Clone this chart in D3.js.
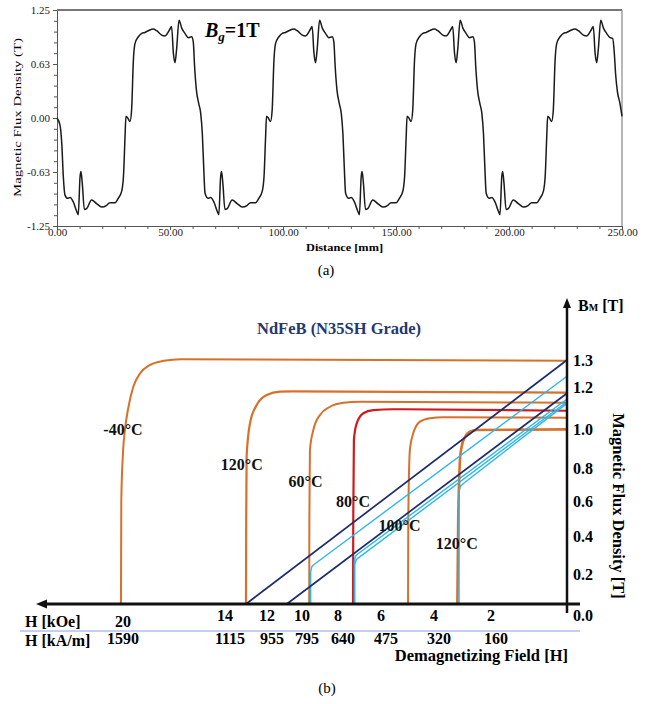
<!DOCTYPE html>
<html>
<head>
<meta charset="utf-8">
<script src="https://cdn.jsdelivr.net/npm/d3@7"></script>
<style>
  body { margin: 0; background: #fff; }
  svg { display: block; font-family: "Liberation Serif", "Times New Roman", serif; }
</style>
</head>
<body>
<svg id="fig" width="651" height="704"></svg>
<script>
// ---------- (a) air-gap flux density along the distance, [mm, T]
const cycle1 = [[0,0],[1.3,-0.08],[2.1,-0.29],[2.8,-0.68],[3.5,-0.89],[4.7,-0.93],[5.8,-0.92],[7.2,-0.97],[8.7,-1.08],[9.4,-1.12],
  [10.2,-0.68],[10.6,-0.62],[11.2,-0.76],[12.1,-1.06],[13.1,-1.05],[15.3,-0.95],[17.5,-0.99],[19.8,-1.03],[22.0,-1.01],[23.4,-0.98],
  [25.7,-0.98],[27.1,-0.93],[28.6,-0.85],[29.4,-0.68],[30.1,-0.22],[30.5,0.02],[31.3,0.00],[32.3,-0.04],[33.0,0.09],[33.8,0.67],
  [34.5,0.86],[36.0,0.94],[37.5,0.98],[38.9,0.99],[40.4,1.01],[42.6,1.03],[44.1,1.01],[46.3,0.96],[47.8,0.95],[50.0,1.03],
  [50.7,1.06],[51.5,0.75],[52.2,0.64],[52.9,0.79],[54.0,1.13],[55.2,1.04],[56.6,0.98],[58.1,0.93],[59.6,0.94],[60.3,0.88],
  [60.9,0.59],[61.7,0.32],[62.7,0.17],[63.6,0.05]]
const cycle2 = [[64.3,-0.18],[64.9,-0.56],[65.5,-0.87],[66.9,-0.93],[68.0,-0.92],[69.4,-0.97],[70.9,-1.08],[71.6,-1.12],[72.4,-0.68],
  [72.8,-0.62],[73.4,-0.76],[74.3,-1.06],[75.3,-1.05],[77.5,-0.95],[79.7,-0.99],[82.0,-1.03],[84.2,-1.01],[85.6,-0.98],[87.9,-0.98],
  [89.3,-0.93],[90.8,-0.85],[91.6,-0.68],[92.3,-0.22],[92.7,0.02],[93.5,0.00],[94.5,-0.04],[95.2,0.09],[96.0,0.67],[96.7,0.86],
  [98.2,0.94],[99.7,0.98],[101.1,0.99],[102.6,1.01],[104.8,1.03],[106.3,1.01],[108.5,0.96],[110.0,0.95],[112.2,1.03],[112.9,1.06],
  [113.7,0.75],[114.4,0.64],[115.1,0.79],[116.2,1.13],[117.4,1.04],[118.8,0.98],[120.3,0.93],[121.8,0.94],[122.5,0.88],[123.1,0.59],
  [123.9,0.32],[124.9,0.17],[125.8,0.05]]
const cycle3 = [[126.5,-0.18],[127.1,-0.56],[127.7,-0.87],[129.1,-0.93],[130.2,-0.92],[131.6,-0.97],[133.1,-1.08],[133.8,-1.12],
  [134.6,-0.68],[135.0,-0.62],[135.6,-0.76],[136.5,-1.06],[137.5,-1.05],[139.7,-0.95],[141.9,-0.99],[144.2,-1.03],[146.4,-1.01],
  [147.8,-0.98],[150.1,-0.98],[151.5,-0.93],[153.0,-0.85],[153.8,-0.68],[154.5,-0.22],[154.9,0.02],[155.7,0.00],[156.7,-0.04],
  [157.4,0.09],[158.2,0.67],[158.9,0.86],[160.4,0.94],[161.9,0.98],[163.3,0.99],[164.8,1.01],[167.0,1.03],[168.5,1.01],[170.7,0.96],
  [172.2,0.95],[174.4,1.03],[175.1,1.06],[175.9,0.75],[176.6,0.64],[177.3,0.79],[178.4,1.13],[179.6,1.04],[181.0,0.98],[182.5,0.93],
  [184.0,0.94],[184.7,0.88],[185.3,0.59],[186.1,0.32],[187.1,0.17],[188.0,0.05]]
const cycle4 = [[188.7,-0.18],[189.3,-0.56],[189.9,-0.87],[191.3,-0.93],[192.4,-0.92],[193.8,-0.97],[195.3,-1.08],[196.0,-1.12],
  [196.8,-0.68],[197.2,-0.62],[197.8,-0.76],[198.7,-1.06],[199.7,-1.05],[201.9,-0.95],[204.1,-0.99],[206.4,-1.03],[208.6,-1.01],
  [210.0,-0.98],[212.3,-0.98],[213.7,-0.93],[215.2,-0.85],[216.0,-0.68],[216.7,-0.22],[217.1,0.02],[217.9,0.00],[218.9,-0.04],
  [219.6,0.09],[220.4,0.67],[221.1,0.86],[222.6,0.94],[224.1,0.98],[225.5,0.99],[227.0,1.01],[229.2,1.03],[230.7,1.01],[232.9,0.96],
  [234.4,0.95],[236.6,1.03],[237.3,1.06],[238.1,0.75],[238.8,0.64],[239.5,0.79],[240.6,1.13],[241.8,1.04],[243.2,0.98],[244.7,0.93],
  [245.9,0.92],[246.6,0.75],[247.2,0.5],[248.0,0.3],[249.0,0.18],[250.0,0.02]]

const distTicks = [0, 50, 100, 150, 200, 250]
const fluxTicks = [-1.25, -0.625, 0, 0.625, 1.25]
const fluxTickLabels = ["-1.25", "-0.63", "0.00", "0.63", "1.25"]

// ---------- (b) NdFeB demagnetization curves, [H kOe, B T]
const hTicksKOe = [20, 14, 12, 10, 8, 6, 4, 2]
const hTicksKAm = [1590, 1115, 955, 795, 640, 475, 320, 160]
const bTicks = [0.2, 0.4, 0.6, 0.8, 1.0, 1.2, 1.3]

const curveM40 = [[20.12,0],[20.1,0.6],[20.0,0.88],[19.88,1.0],[19.69,1.1],[19.4,1.2],[19.0,1.25],[18.4,1.282],[17.6,1.297],[16.6,1.303],[0,1.297]]
const curve120a = [[13.0,0],[12.99,0.5],[12.97,0.86],[12.81,1.027],[12.49,1.114],[12.01,1.162],[11.26,1.178],[10.51,1.179],[0,1.173]]
const curve60 = [[9.6,0],[9.59,0.5],[9.56,0.89],[9.37,0.995],[9.0,1.067],[8.44,1.106],[7.75,1.125],[6.98,1.13],[0,1.125]]
const curve80 = [[7.3,0],[7.29,0.5],[7.26,0.944],[7.13,1.027],[6.82,1.075],[6.36,1.09],[5.54,1.094],[0,1.087]]
const curve100 = [[4.98,0],[4.97,0.5],[4.91,0.892],[4.78,0.979],[4.53,1.035],[4.15,1.051],[3.67,1.056],[0,1.054]]
const curve120b = [[3.18,0],[3.15,0.5],[3.12,0.707],[3.09,0.84],[3.03,0.909],[2.91,0.96],[2.74,0.986],[2.5,0.995],[0,0.998]]

const loadLines = [[[13.0,0],[0,1.3]], [[10.87,0],[0,1.17]]]
const recoil60 = [[9.52,0],[9.52,0.21],[9.45,0.24],[9.33,0.25],[0,1.24]]
const recoil80a = [[7.24,0],[7.24,0.27],[7.18,0.295],[7.08,0.305],[0,1.143]]
const recoil80b = [[7.22,0],[7.22,0.25],[7.15,0.275],[7.05,0.285],[0,1.13]]
const recoil120 = [[3.12,0],[3.12,0.66],[3.07,0.69],[2.98,0.705],[0,1.122]]

const tempNames = ["-40", "120", "60", "80", "100", "120"]
const tempLabelAt = [[20, 1.0], [13.2, 0.82], [9.8, 0.72], [7.3, 0.6], [5.3, 0.46], [3.2, 0.36]]

const ORANGE = '#d7702a', RED = '#cf1b1b', NAVY = '#1d2c6c', CYAN = '#2fb7ea'

const svg = d3.select('#fig')
svg.append('rect').attr('width', 651).attr('height', 704).attr('fill', '#fff')

// ================= panel (a)
const xA = d3.scaleLinear().domain([0, 250]).range([57, 622])
const yA = d3.scaleLinear().domain([-1.25, 1.25]).range([226, 10])
const gA = svg.append('g')

gA.append('g').attr('transform', `translate(0,${yA(-1.25)})`)
  .call(d3.axisBottom(xA).tickValues(d3.range(0, 251, 10)).tickSize(3).tickFormat(''))
gA.append('g').attr('transform', `translate(0,${yA(-1.25)})`)
  .call(d3.axisBottom(xA).tickValues(distTicks).tickSize(4).tickPadding(-1.5).tickFormat(d3.format('.2f')))
gA.append('g').attr('transform', `translate(${xA(0)},0)`)
  .call(d3.axisLeft(yA).tickValues(d3.range(-1.25, 1.26, 0.125)).tickSize(3).tickFormat(''))
gA.append('g').attr('transform', `translate(${xA(0)},0)`)
  .call(d3.axisLeft(yA).tickValues(fluxTicks).tickSize(4).tickFormat((d, i) => fluxTickLabels[i]))
gA.selectAll('.domain, .tick line').attr('stroke', '#555')
gA.selectAll('.tick text').attr('fill', '#222').style('font-size', '11px')
  .style('font-family', '"Liberation Serif", serif')

// frame top and right
gA.append('line').attr('x1', xA(0)).attr('x2', xA(250)).attr('y1', yA(1.25)).attr('y2', yA(1.25))
  .attr('stroke', '#777').attr('stroke-width', 2)
gA.append('line').attr('x1', xA(250)).attr('x2', xA(250)).attr('y1', yA(1.25)).attr('y2', yA(-1.25))
  .attr('stroke', '#888').attr('stroke-width', 1.2)

const wave = cycle1.concat(cycle2, cycle3, cycle4)
gA.append('path').datum(wave)
  .attr('fill', 'none').attr('stroke', '#1a1a1a').attr('stroke-width', 1.5)
  .attr('d', d3.line().x(d => xA(d[0])).y(d => yA(d[1])).curve(d3.curveMonotoneX))

gA.append('text').attr('x', 306).attr('y', 251)
  .attr('textLength', 77).attr('lengthAdjust', 'spacingAndGlyphs')
  .style('font-size', '10.5px').style('font-weight', 'bold').text('Distance [mm]')
gA.append('text').attr('transform', 'translate(21,197) rotate(-90)')
  .attr('textLength', 159).attr('lengthAdjust', 'spacingAndGlyphs')
  .style('font-size', '10px').text('Magnetic Flux Density (T)')

const bg = gA.append('text').attr('x', 205).attr('y', 37).style('font-weight', 'bold')
bg.append('tspan').style('font-style', 'italic').style('font-size', '20px').text('B')
bg.append('tspan').style('font-style', 'italic').style('font-size', '13px').attr('dy', 4).text('g')
bg.append('tspan').style('font-size', '20px').attr('dy', -4).text('=1T')

svg.append('text').attr('x', 326).attr('y', 275).attr('text-anchor', 'middle')
  .style('font-size', '15px').text('(a)')

// ================= panel (b)  (the original axes are not to scale: piecewise through the tick marks)
const xB = d3.scaleLinear().domain([20, 14, 12, 10, 8, 6, 4, 2, 0]).range([123, 225, 267, 302, 338, 381, 434, 491, 567])
const yB = d3.scaleLinear().domain([0, 0.2, 0.4, 0.6, 0.8, 1.0, 1.2, 1.3]).range([604, 574, 536, 501, 468, 429, 387, 360])
const gB = svg.append('g')

const smooth = d3.line().x(d => xB(d[0])).y(d => yB(d[1])).curve(d3.curveMonotoneX)
const straight = d3.line().x(d => xB(d[0])).y(d => yB(d[1]))

const demag = [
  { pts: curveM40, color: ORANGE, w: 2 },
  { pts: curve120a, color: ORANGE, w: 2.2 },
  { pts: curve60, color: ORANGE, w: 2 },
  { pts: curve100, color: ORANGE, w: 2 },
  { pts: curve120b, color: ORANGE, w: 2.6 },
  { pts: curve80, color: RED, w: 2.2 }
]
gB.selectAll('path.demag').data(demag).enter().append('path')
  .attr('class', 'demag').attr('fill', 'none')
  .attr('stroke', d => d.color).attr('stroke-width', d => d.w)
  .attr('d', d => smooth(d.pts))

gB.selectAll('path.recoil').data([recoil60, recoil80a, recoil80b, recoil120]).enter().append('path')
  .attr('class', 'recoil').attr('fill', 'none').attr('stroke', CYAN).attr('stroke-width', 1.4)
  .attr('d', straight)
gB.selectAll('path.load').data(loadLines).enter().append('path')
  .attr('class', 'load').attr('fill', 'none').attr('stroke', NAVY).attr('stroke-width', 1.7)
  .attr('d', straight)

// axes with arrows
const x0 = xB(0), y0 = yB(0)
gB.append('line').attr('x1', 44).attr('x2', 580).attr('y1', y0).attr('y2', y0)
  .attr('stroke', '#111').attr('stroke-width', 3)
gB.append('path').attr('d', `M36,${y0}L47,${y0 - 4.5}L47,${y0 + 4.5}Z`).attr('fill', '#111')
gB.append('line').attr('x1', x0).attr('x2', x0).attr('y1', y0 + 9).attr('y2', 306)
  .attr('stroke', '#111').attr('stroke-width', 2.5)
gB.append('path').attr('d', `M${x0},298L${x0 - 4},308L${x0 + 4},308Z`).attr('fill', '#111')

gB.append('line').attr('x1', 20).attr('x2', 580).attr('y1', 631).attr('y2', 631)
  .attr('stroke', '#8a9de6').attr('stroke-width', 1)

const bold = (sel, size) => sel.style('font-weight', 'bold').style('font-size', (size || 16) + 'px')

gB.selectAll('text.kOe').data(hTicksKOe).enter().append('text').attr('class', 'kOe')
  .attr('x', d => xB(d)).attr('y', (d, i) => i === 0 ? 627 : 621).attr('text-anchor', 'middle')
  .call(bold).text(d => d)
gB.selectAll('text.kAm').data(hTicksKAm).enter().append('text').attr('class', 'kAm')
  .attr('x', (d, i) => xB(hTicksKOe[i]) + (i === 0 ? 0 : 5)).attr('y', 644).attr('text-anchor', 'middle')
  .call(bold).text(d => d)
gB.append('text').attr('x', 25).attr('y', 627).call(bold).text('H [kOe]')
gB.append('text').attr('x', 25).attr('y', 646).call(bold).text('H [kA/m]')
gB.append('text').attr('x', 568).attr('y', 661).attr('text-anchor', 'end').call(bold, 16.5).text('Demagnetizing Field [H]')

gB.selectAll('text.bt').data(bTicks).enter().append('text').attr('class', 'bt')
  .attr('x', 573).attr('y', d => yB(d)).attr('dy', '0.35em')
  .call(bold).text(d => d.toFixed(1))
gB.append('text').attr('x', 573).attr('y', y0 + 11).attr('dy', '0.35em').call(bold).text('0.0')

const bm = gB.append('text').attr('x', 578).attr('y', 305).attr('dy', '0.35em').call(bold)
bm.append('tspan').text('B')
bm.append('tspan').style('font-size', '10px').text('M')
bm.append('tspan').text(' [T]')

gB.append('text').attr('transform', 'translate(613,506) rotate(90)').attr('text-anchor', 'middle')
  .call(bold, 16.5).text('Magnetic Flux Density [T]')

gB.append('text').attr('x', 257).attr('y', 334).attr('fill', '#23386e').call(bold, 16.5)
  .text('NdFeB (N35SH Grade)')

gB.selectAll('text.temp').data(tempNames).enter().append('text').attr('class', 'temp')
  .attr('x', (d, i) => xB(tempLabelAt[i][0])).attr('y', (d, i) => yB(tempLabelAt[i][1]))
  .attr('dy', '0.35em').attr('text-anchor', 'middle').attr('fill', '#111')
  .call(bold).text(d => d + '°C')

svg.append('text').attr('x', 327).attr('y', 693).attr('text-anchor', 'middle')
  .style('font-size', '15px').text('(b)')
</script>
</body>
</html>
